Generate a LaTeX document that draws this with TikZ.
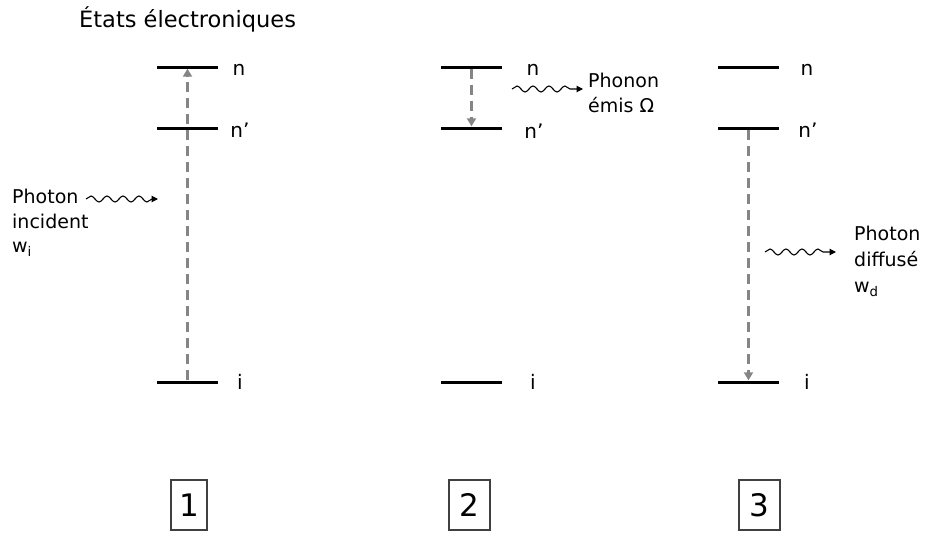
\documentclass[tikz,border=0pt]{standalone}
\usepackage{fontspec}
\setmainfont{DejaVu Sans}
\usetikzlibrary{decorations.pathmorphing,arrows.meta}
\begin{document}
\begin{tikzpicture}[x=1pt,y=-1pt,
  levelnode/.style={rectangle, fill=black, inner sep=0pt, minimum width=61pt, minimum height=3pt},
  trans/.style={draw=black!48, line width=2.8pt, dash pattern=on 10pt off 6pt, -{Triangle[width=9pt,length=8pt]}},
  wave/.style={decorate, decoration={snake, segment length=16pt, amplitude=3pt, post length=6pt}, line width=1.1pt, -{Triangle[width=6.5pt,length=6.5pt]}},
  lab/.style={font=\fontsize{20}{24}\selectfont, inner sep=0pt, anchor=base},
  txt/.style={font=\fontsize{19}{24}\selectfont, inner sep=0pt, anchor=base west},
  numbox/.style={draw=black!75, line width=1.1pt, minimum height=50pt, inner sep=0pt, font=\fontsize{31}{34}\selectfont}
]
\useasboundingbox (0,0) rectangle (930,533);

% title
\node[font=\fontsize{22.5}{26}\selectfont, inner sep=0pt, anchor=base west] (title) at (79,27) {États électroniques};

% ---- diagram 1
\node[levelnode] (n1) at (187.5,67) {};
\node[levelnode] (np1) at (187.5,128) {};
\node[levelnode] (i1) at (187.5,382) {};
\node[lab] (ln1) at (239,75) {n};
\node[lab] (lnp1) at (240,137) {n'};
\node[lab] (li1) at (240,389) {i};
\draw[trans] (i1) -- (n1);
\coordinate (w1s) at (86,199);
\coordinate (w1e) at (158,199);
\draw[wave] (w1s) -- (w1e);
\node[txt] (t1a) at (12,203) {Photon};
\node[txt] (t1b) at (12,228) {incident};
\node[txt] (t1c) at (12,252) {w\textsubscript{i}};
\node[numbox, minimum width=36pt] (b1) at (189,505) {1};

% ---- diagram 2
\node[levelnode] (n2) at (471.5,67) {};
\node[levelnode] (np2) at (471.5,128) {};
\node[levelnode] (i2) at (471.5,382) {};
\node[lab] (ln2) at (533,75) {n};
\node[lab] (lnp2) at (534,138) {n'};
\node[lab] (li2) at (533,389) {i};
\draw[trans] (n2) -- (np2);
\coordinate (w2s) at (512,89);
\coordinate (w2e) at (583,89);
\draw[wave] (w2s) -- (w2e);
\node[txt] (t2a) at (588,87) {Phonon};
\node[txt] (t2b) at (588,112) {émis Ω};
\node[numbox, minimum width=41pt] (b2) at (469.5,505) {2};

% ---- diagram 3
\node[levelnode] (n3) at (748.5,67) {};
\node[levelnode] (np3) at (748.5,128) {};
\node[levelnode] (i3) at (748.5,382) {};
\node[lab] (ln3) at (807,75) {n};
\node[lab] (lnp3) at (808,137) {n'};
\node[lab] (li3) at (807,389) {i};
\draw[trans] (np3) -- (i3);
\coordinate (w3s) at (765,252);
\coordinate (w3e) at (836,252);
\draw[wave] (w3s) -- (w3e);
\node[txt] (t3a) at (854,240) {Photon};
\node[txt] (t3b) at (854,266) {diffusé};
\node[txt] (t3c) at (854,292) {w\textsubscript{d}};
\node[numbox, minimum width=41pt] (b3) at (759.5,505) {3};
\end{tikzpicture}
\end{document}
